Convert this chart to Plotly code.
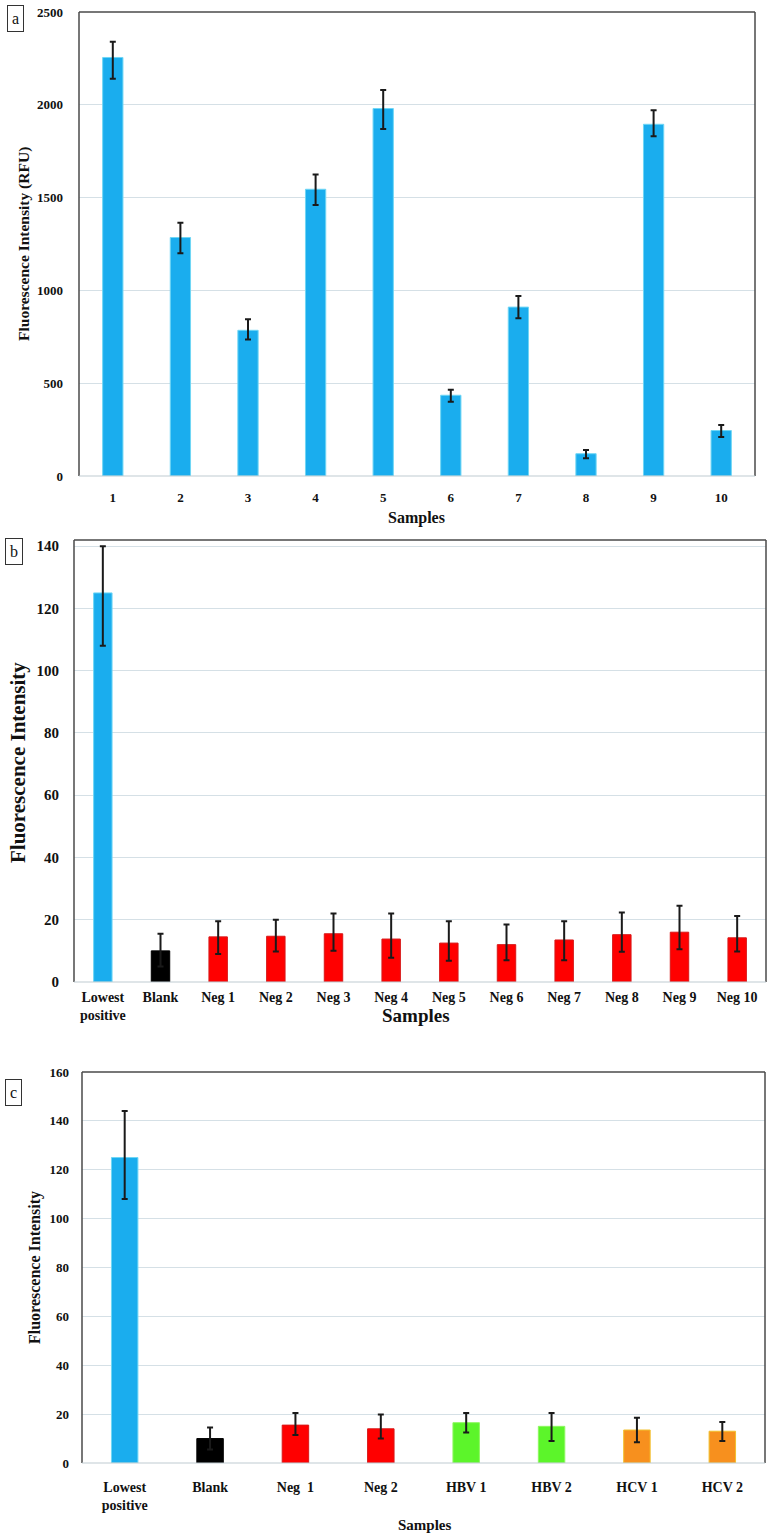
import plotly.graph_objects as go

# Panel a
a_cats = ["1", "2", "3", "4", "5", "6", "7", "8", "9", "10"]
a_vals = [2255, 1285, 785, 1545, 1980, 435, 910, 120, 1895, 245]
a_err_hi = [85, 80, 60, 80, 100, 30, 60, 20, 75, 30]
a_err_lo = [115, 85, 50, 85, 110, 35, 60, 25, 65, 35]
a_yticks = [0, 500, 1000, 1500, 2000, 2500]

# Panel b
b_cats = ["Lowest<br>positive", "Blank", "Neg 1", "Neg 2", "Neg 3", "Neg 4", "Neg 5",
          "Neg 6", "Neg 7", "Neg 8", "Neg 9", "Neg 10"]
b_vals = [125, 10, 14.5, 14.7, 15.5, 13.8, 12.5, 12, 13.5, 15.2, 16, 14.2]
b_err_hi = [15, 5.5, 5, 5.3, 6.5, 8.2, 7, 6.5, 6, 7.1, 8.5, 7]
b_err_lo = [17, 5, 5.5, 4.9, 5.5, 6, 5.7, 5, 6.5, 5.5, 5.5, 4.4]
b_colors = ["#1AADEE", "#000000"] + ["#FF0000"] * 10
b_yticks = [0, 20, 40, 60, 80, 100, 120, 140]

# Panel c
c_cats = ["Lowest<br>positive", "Blank", "Neg  1", "Neg 2", "HBV 1", "HBV 2", "HCV 1", "HCV 2"]
c_vals = [125, 10, 15.5, 14, 16.5, 15, 13.5, 13]
c_err_hi = [19, 4.5, 5, 5.8, 4, 5.5, 5, 3.8]
c_err_lo = [17, 4.5, 4, 4, 4, 6, 5, 4]
c_colors = ["#1AADEE", "#000000", "#FF0000", "#FF0000", "#5CF52A", "#5CF52A", "#F7901E", "#F7901E"]
c_lines = ["#6FD6F5", "#000000", "#D81818", "#D81818", "#8EF860", "#8EF860", "#F2C12E", "#F2C12E"]
c_yticks = [0, 20, 40, 60, 80, 100, 120, 140, 160]

W, H = 774, 1540
FONT = "Liberation Serif"


def py(px):
    return 1 - px / H


def px_x(px):
    return px / W


fig = go.Figure()

err_style = dict(type="data", symmetric=False, color="#1A1A1A", thickness=2, width=3)

fig.add_trace(go.Bar(
    x=a_cats, y=a_vals, xaxis="x", yaxis="y",
    marker=dict(color="#1AADEE", line=dict(color="#6FD6F5", width=1)),
    error_y=dict(array=a_err_hi, arrayminus=a_err_lo, **err_style),
    width=0.3, showlegend=False))

fig.add_trace(go.Bar(
    x=b_cats, y=b_vals, xaxis="x2", yaxis="y2",
    marker=dict(color=b_colors, line=dict(color=["#6FD6F5", "#000000"] + ["#D81818"] * 10, width=1)),
    error_y=dict(array=b_err_hi, arrayminus=b_err_lo, **err_style),
    width=0.32, showlegend=False))

fig.add_trace(go.Bar(
    x=c_cats, y=c_vals, xaxis="x3", yaxis="y3",
    marker=dict(color=c_colors, line=dict(color=c_lines, width=1)),
    error_y=dict(array=c_err_hi, arrayminus=c_err_lo, **err_style),
    width=0.31, showlegend=False))

grid = "#D5E0E6"
border = "#4A4A4A"


def xax(domain, anchor, size, standoff):
    return dict(domain=domain, anchor=anchor, type="category", automargin=False,
                showline=False, showgrid=False, zeroline=False, ticks="",
                tickfont=dict(family=FONT, size=size, color="#111111", weight="bold"),
                ticklabelstandoff=standoff, fixedrange=True)


def yax(domain, anchor, rng, vals, size, standoff):
    return dict(domain=domain, anchor=anchor, range=rng, tickvals=vals, automargin=False,
                showgrid=True, gridcolor=grid, gridwidth=1, zeroline=False,
                showline=False, ticks="",
                tickfont=dict(family=FONT, size=size, color="#111111", weight="bold"),
                ticklabelstandoff=standoff, fixedrange=True)


fig.update_layout(
    width=W, height=H, margin=dict(l=0, r=0, t=0, b=0, autoexpand=False),
    paper_bgcolor="white", plot_bgcolor="white",
    bargap=0.7,
    xaxis=xax([px_x(79), px_x(755)], "y", 13, 12),
    yaxis=yax([py(476), py(12)], "x", [0, 2500], a_yticks, 13, 15),
    xaxis2=xax([px_x(74), px_x(766)], "y2", 14, 5),
    yaxis2=yax([py(982), py(540)], "x2", [0, 142], b_yticks, 15, 14),
    xaxis3=xax([px_x(82), px_x(765)], "y3", 14, 14),
    yaxis3=yax([py(1463), py(1072)], "x3", [0, 160], c_yticks, 13, 12),
)

shapes = []
for xn, yn in [("xaxis", "yaxis"), ("xaxis2", "yaxis2"), ("xaxis3", "yaxis3")]:
    xdom = fig.layout[xn].domain
    ydom = fig.layout[yn].domain
    shapes.append(dict(type="line", xref="paper", yref="paper", x0=xdom[0], x1=xdom[1],
                       y0=ydom[1], y1=ydom[1], line=dict(color=border, width=1.5)))
    shapes.append(dict(type="line", xref="paper", yref="paper", x0=xdom[0], x1=xdom[0],
                       y0=ydom[0], y1=ydom[1], line=dict(color=border, width=1.5)))
    shapes.append(dict(type="line", xref="paper", yref="paper", x0=xdom[1], x1=xdom[1],
                       y0=ydom[0], y1=ydom[1], line=dict(color=border, width=1.5)))
    shapes.append(dict(type="line", xref="paper", yref="paper", x0=xdom[0], x1=xdom[1],
                       y0=ydom[0], y1=ydom[0], line=dict(color="#BFCBD2", width=1.2)))
fig.update_layout(shapes=shapes)

ann = []
bold = dict(family=FONT, color="#111111", weight="bold")
common = dict(xref="paper", yref="paper", xanchor="center", yanchor="middle", showarrow=False)
ann.append(dict(text="Fluorescence Intensity (RFU)", x=px_x(24), y=py(244),
                textangle=-90, font=dict(size=15.5, **bold), **common))
ann.append(dict(text="Samples", x=px_x(417), y=py(518), font=dict(size=16, **bold), **common))
ann.append(dict(text="Fluorescence Intensity", x=px_x(18), y=py(763),
                textangle=-90, font=dict(size=21, **bold), **common))
ann.append(dict(text="Samples", x=px_x(416), y=py(1015), font=dict(size=19, **bold), **common))
ann.append(dict(text="Fluorescence Intensity", x=px_x(35), y=py(1268),
                textangle=-90, font=dict(size=16, **bold), **common))
ann.append(dict(text="Samples", x=px_x(425), y=py(1525), font=dict(size=15, **bold), **common))
for lab, xc, yc in [("a", 15, 19), ("b", 14, 551), ("c", 14, 1092)]:
    ann.append(dict(text=lab, x=px_x(xc), y=py(yc),
                    font=dict(family=FONT, size=16, color="#111111"),
                    bordercolor="#333333", borderwidth=1, borderpad=4, bgcolor="white", **common))
fig.update_layout(annotations=ann)

fig.write_html("out.html", config={"displayModeBar": False},
               post_script="document.body.style.margin='0px';document.body.style.overflow='hidden';")
